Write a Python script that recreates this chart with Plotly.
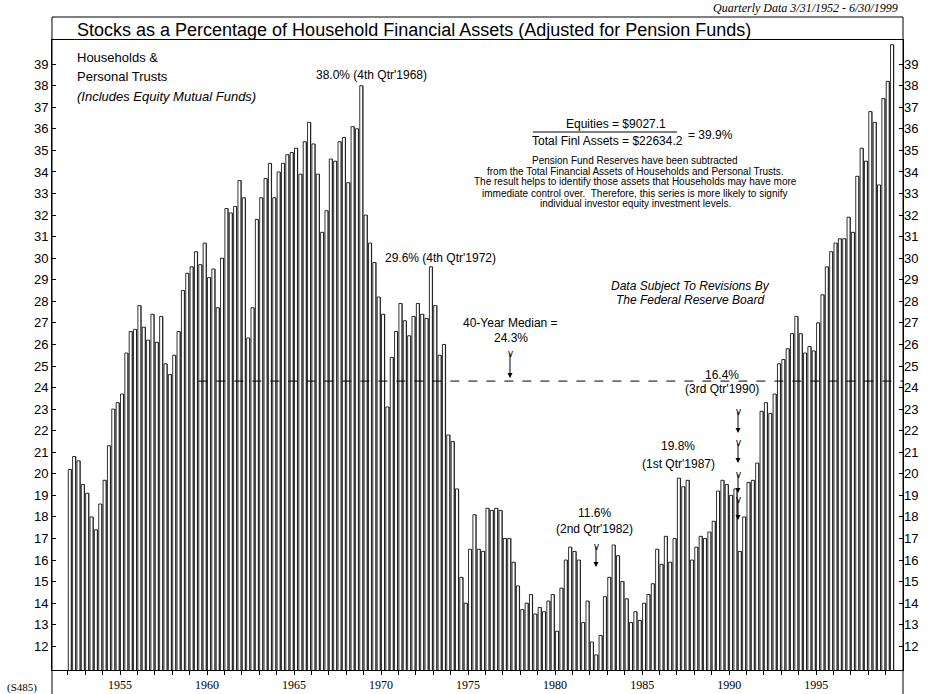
import plotly.graph_objects as go

# quarterly values, 1952 Q1 .. 1999 Q2 (percent)
first_year = 1952
pct = [
    20.2, 20.8, 20.6, 19.5, 19.1, 18.0, 17.4, 18.6, 19.7, 21.3,
    23.0, 23.3, 23.7, 25.6, 26.6, 26.7, 27.8, 26.8, 26.2, 27.4,
    26.1, 27.3, 25.1, 24.6, 25.5, 26.6, 28.5, 29.3, 29.6, 30.3,
    29.7, 30.7, 29.1, 29.5, 27.7, 30.0, 32.3, 32.1, 32.4, 33.6,
    32.8, 26.3, 27.7, 31.8, 32.8, 33.7, 34.4, 32.8, 34.0, 34.4,
    34.8, 34.9, 35.1, 33.9, 35.4, 36.3, 35.3, 33.9, 31.2, 32.2,
    34.6, 34.5, 35.4, 35.6, 33.5, 36.1, 36.0, 38.0, 32.0, 30.7,
    29.8, 28.2, 27.4, 23.1, 25.4, 26.6, 27.9, 27.1, 26.4, 27.3,
    27.9, 27.4, 27.2, 29.6, 27.8, 25.5, 26.0, 21.8, 21.5, 19.3,
    15.2, 14.0, 16.5, 18.1, 16.5, 16.4, 18.4, 18.3, 18.4, 18.3,
    17.0, 17.0, 15.9, 14.8, 13.7, 14.0, 14.4, 13.5, 13.8, 13.6,
    14.1, 14.4, 12.7, 14.7, 16.0, 16.6, 16.4, 16.0, 13.1, 14.1,
    12.2, 11.6, 12.5, 14.3, 15.2, 16.7, 16.2, 15.0, 14.2, 13.1,
    13.6, 13.2, 14.0, 14.4, 14.9, 16.5, 15.8, 17.1, 15.9, 17.0,
    19.8, 19.4, 19.7, 16.0, 16.6, 17.1, 17.0, 17.3, 17.8, 19.2,
    19.7, 19.5, 19.0, 19.3, 16.4, 18.0, 19.6, 19.7, 20.5, 22.9,
    23.3, 22.8, 23.7, 25.1, 25.3, 25.8, 26.5, 27.3, 26.5, 25.6,
    25.9, 25.7, 27.0, 28.3, 29.6, 30.3, 30.7, 30.9, 30.9, 31.9,
    31.2, 33.8, 35.1, 34.5, 36.8, 36.3, 33.4, 37.4, 38.2, 39.9,
]
quarter_x = [first_year + i * 0.25 + 0.125 for i in range(len(pct))]

median_value = 24.3
median_start = 1959.5
y_ticks = list(range(12, 40))
year_ticks = list(range(1952, 2000))
year_labels = [str(y) if y % 5 == 0 else "" for y in year_ticks]

X_RANGE = [1951.09, 1999.99]
Y_RANGE = [10.9, 40.12]

W, H = 943, 694
# plot area in screen pixels (body margin is zeroed below)
L, R, T, B = 52, 903, 40, 670


def P(px, py):
    """screen pixel -> paper coords"""
    return (px - L) / (R - L), (B - py) / (B - T)


SANS = "Liberation Sans, Arial, sans-serif"
SERIF = "Liberation Serif, Times New Roman, serif"

fig = go.Figure()

# dark shadow behind each bar, then the white bar
fig.add_trace(go.Bar(x=quarter_x, y=pct, width=0.19, offset=-0.08,
                     marker=dict(color="#222222", line=dict(width=0)),
                     hoverinfo="skip", showlegend=False))
fig.add_trace(go.Bar(x=quarter_x, y=pct, width=0.17, offset=-0.1,
                     marker=dict(color="white", line=dict(color="black", width=0.8)),
                     showlegend=False))

# median line
fig.add_trace(go.Scatter(x=[median_start, X_RANGE[1]], y=[median_value, median_value],
                         mode="lines", line=dict(color="black", width=1, dash="dash"),
                         yaxis="y2", hoverinfo="skip", showlegend=False))

fig.update_layout(
    width=W, height=H,
    margin=dict(l=L, r=W - R, t=T, b=H - B, autoexpand=False),
    paper_bgcolor="white", plot_bgcolor="white",
    barmode="overlay",
    font=dict(family=SANS, color="black", size=12),
    xaxis=dict(range=X_RANGE, tickmode="array", tickvals=year_ticks, ticktext=year_labels,
               ticks="outside", ticklen=4, tickcolor="black",
               tickfont=dict(family=SERIF, size=12), automargin=False,
               showgrid=False, zeroline=False, showline=True, linecolor="black",
               linewidth=1, mirror=True),
    yaxis=dict(range=Y_RANGE, tickmode="array", tickvals=y_ticks,
               ticks="inside", ticklen=4, tickcolor="black", automargin=False,
               tickfont=dict(size=13), showgrid=False, zeroline=False,
               showline=True, linecolor="black", linewidth=1, mirror=True),
    yaxis2=dict(range=Y_RANGE, overlaying="y", side="right", tickmode="array",
                tickvals=y_ticks, ticks="inside", ticklen=4, tickcolor="black",
                automargin=False,
                tickfont=dict(size=13), showgrid=False, zeroline=False),
)

# title box and frame sides running down to the bottom edge
_, y_top = P(L, 17)
_, y_bot = P(L, 694)
fig.add_shape(type="line", xref="paper", yref="paper", x0=0, x1=1, y0=y_top, y1=y_top,
              line=dict(color="black", width=1))
for xs in (0, 1):
    fig.add_shape(type="line", xref="paper", yref="paper", x0=xs, x1=xs, y0=y_top, y1=y_bot,
                  line=dict(color="black", width=1))

ann = []


def text(px, py, s, size=12, italic=False, family=SANS, xanchor="center"):
    x, y = P(px, py)
    if italic:
        s = "<i>" + s + "</i>"
    ann.append(dict(x=x, y=y, xref="paper", yref="paper", text=s, showarrow=False,
                    xanchor=xanchor, yanchor="middle",
                    font=dict(size=size, family=family)))


def arrow(px, py_top, py_bot):
    x, y = P(px, py_bot)
    ann.append(dict(x=x, y=y, xref="paper", yref="paper", text="", showarrow=True,
                    ax=0, ay=-(py_bot - py_top), arrowhead=2, arrowsize=1,
                    arrowwidth=1, arrowcolor="black"))
    text(px, py_top + 1, "v", size=10)


text(414, 30, "Stocks as a Percentage of Household Financial Assets (Adjusted for Pension Funds)", size=18)
text(900, 8, "Quarterly Data 3/31/1952 - 6/30/1999", size=12, italic=True, family=SERIF, xanchor="right")

text(75, 57, "Households &", size=13, xanchor="left")
text(75, 76, "Personal Trusts", size=13, xanchor="left")
text(75, 96, "(Includes Equity Mutual Funds)", size=13, italic=True, xanchor="left")

text(371, 75, "38.0% (4th Qtr'1968)")
text(440, 258, "29.6% (4th Qtr'1972)")

text(616, 124, "Equities = $9027.1")
text(607, 141, "Total Finl Assets = $22634.2")
text(710, 135, "= 39.9%")
x_a, y_a = P(533, 132)
x_b, _ = P(677, 132)
fig.add_shape(type="line", xref="paper", yref="paper", x0=x_a, x1=x_b, y0=y_a, y1=y_a,
              line=dict(color="black", width=1))

para = [
    "Pension Fund Reserves have been subtracted",
    "from the Total Financial Assets of Households and Personal Trusts.",
    "The result helps to identify those assets that Households may have more",
    "immediate control over.  Therefore, this series is more likely to signify",
    "individual investor equity investment levels.",
]
for k, line in enumerate(para):
    text(635, 160 + 11 * k, line, size=10)

text(690, 286, "Data Subject To Revisions By", italic=True)
text(690, 300, "The Federal Reserve Board", italic=True)

text(511, 323, "40-Year Median =")
text(511, 338, "24.3%")
arrow(510, 352, 378)

text(722, 375, "16.4%")
text(722, 389, "(3rd Qtr'1990)")
for top, bot in [(410, 433), (442, 463), (473, 493), (498, 520)]:
    arrow(738, top, bot)

text(678, 446, "19.8%")
text(678, 464, "(1st Qtr'1987)")

text(594, 513, "11.6%")
text(594, 529, "(2nd Qtr'1982)")
arrow(596, 545, 567)

text(22, 688, "(S485)", size=11, family=SERIF)

fig.update_layout(annotations=ann)
fig.write_html("out.html", config={"displayModeBar": False},
               post_script="document.body.style.margin = '0';")
